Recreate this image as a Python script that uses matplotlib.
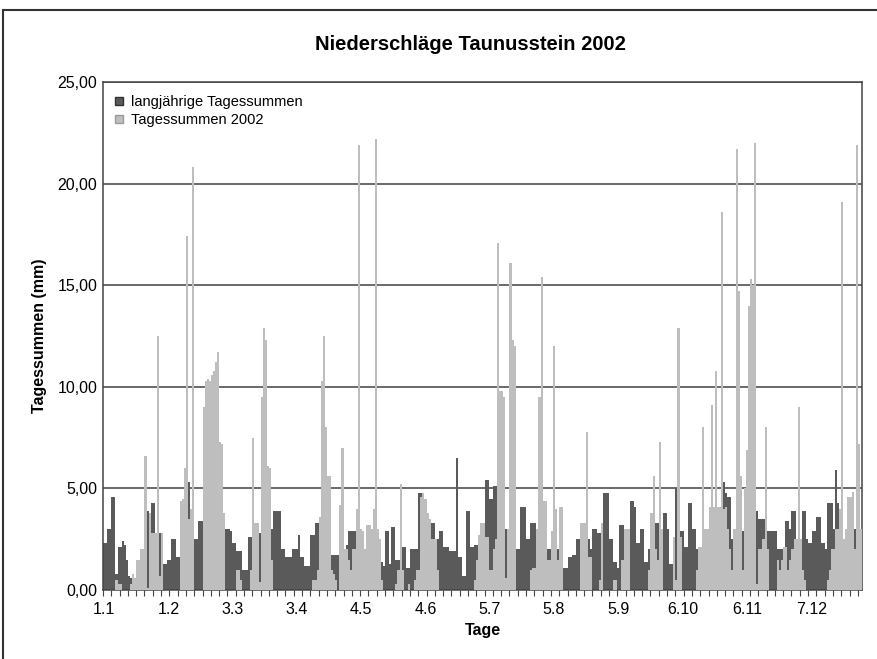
import matplotlib.pyplot as plt
from matplotlib.lines import Line2D
import numpy as np
from datetime import date, timedelta

plt.rcParams['font.family'] = ['Liberation Sans', 'DejaVu Sans']

# Tagessummen 2002 (mm), 366 Kategorien (inkl. 29.2.)
tages_2002 = [
    0, 0, 0, 0, 0, 0, 0.5, 0.3, 0.3, 0,
    0, 0, 0, 0.3, 0.8, 0.6, 1.5, 1.5, 2.0, 2.0,
    6.6, 0.1, 3.8, 2.8, 2.8, 2.8, 12.5, 0.7, 2.8, 0,
    0, 0, 0, 0, 0, 0, 0, 4.4, 4.5, 6.0,
    17.4, 3.5, 4.0, 20.8, 0, 0, 0, 0, 9.0, 10.3,
    10.4, 10.3, 10.6, 10.8, 11.2, 11.7, 7.3, 7.2, 3.8, 0,
    0, 0, 0, 0, 1.0, 1.0, 0.5, 0, 0, 0,
    0, 1.0, 7.5, 3.3, 3.3, 0.4, 9.5, 12.9, 12.3, 6.1,
    6.0, 1.5, 0, 0, 0, 0, 0, 0, 0, 0,
    0, 0, 0, 0, 0, 0, 0, 0, 0, 0,
    0, 0.5, 0.5, 1.0, 3.6, 10.3, 12.5, 8.0, 5.6, 5.6,
    1.0, 0.8, 0.5, 0, 4.2, 7.0, 2.0, 2.0, 1.5, 1.0,
    2.0, 2.0, 4.0, 21.9, 3.0, 2.9, 2.0, 3.2, 3.2, 3.0,
    4.0, 22.2, 3.0, 2.5, 0.5, 0, 0, 0, 0, 0,
    0, 0.3, 1.0, 5.2, 1.0, 0, 0, 0.3, 0, 0,
    0.5, 1.0, 1.0, 4.6, 4.75, 4.5, 3.8, 3.5, 2.5, 2.5,
    2.5, 1.0, 0, 0, 0, 0, 0, 0, 0, 0,
    0, 0, 0, 0, 0, 0, 0, 0, 0, 0.5,
    1.5, 2.7, 3.3, 3.3, 2.6, 2.6, 1.0, 1.0, 2.0, 2.5,
    17.1, 9.8, 9.8, 9.5, 0.6, 3.0, 16.1, 12.3, 12.0, 0,
    0, 0, 0, 0, 0, 0, 1.0, 1.1, 1.1, 3.0,
    9.5, 15.4, 4.4, 4.4, 1.5, 1.5, 2.9, 12.0, 4.0, 1.5,
    4.1, 4.1, 0, 0, 0, 0, 0, 0, 0, 0,
    3.3, 3.3, 3.3, 7.8, 1.6, 1.6, 0, 0, 0, 0.5,
    3.3, 0, 0, 0, 0, 0, 0.5, 0.5, 0, 0,
    1.5, 3.0, 3.0, 3.0, 0, 0, 0, 0, 0, 0,
    0, 0, 0, 1.0, 3.8, 5.6, 2.0, 1.5, 7.3, 3.0,
    0, 0, 0, 0, 0, 2.6, 0.5, 12.9, 2.6, 0,
    0, 0, 0, 0, 0, 0, 1.0, 2.1, 2.1, 8.0,
    3.0, 3.0, 4.1, 9.1, 4.1, 10.8, 4.1, 4.1, 18.6, 4.0,
    4.1, 3.0, 2.0, 1.0, 3.0, 21.7, 14.7, 5.6, 1.0, 5.0,
    6.9, 14.0, 15.3, 15.0, 22.0, 0.3, 2.0, 2.0, 2.5, 8.0,
    2.0, 0, 0, 0, 0, 1.5, 1.0, 1.5, 2.1, 2.1,
    1.0, 1.5, 2.0, 2.5, 2.5, 9.0, 2.5, 1.0, 0.5, 0,
    0, 0, 0, 0, 0, 0, 0, 0, 0, 0.5,
    1.0, 2.0, 2.0, 3.0, 3.0, 4.0, 19.1, 2.5, 3.0, 4.6,
    4.6, 4.8, 2.0, 21.9, 7.2, 3.0,
]

# langjaehrige Tagessummen (mm)
tages_lang = [
    2.3, 2.3, 3.0, 3.0, 4.6, 4.6, 0.8, 2.1, 2.1, 2.4,
    2.2, 1.5, 0.7, 0.6, 0.6, 0.6, 1.0, 1.0, 1.2, 1.5,
    2.0, 3.9, 3.8, 4.3, 4.3, 2.5, 2.5, 2.8, 2.0, 1.3,
    1.3, 1.5, 1.5, 2.5, 2.5, 1.6, 1.6, 2.0, 2.0, 2.5,
    3.0, 5.3, 3.0, 3.0, 2.5, 2.5, 3.4, 3.4, 2.5, 2.5,
    2.5, 2.5, 2.5, 2.5, 2.5, 2.5, 2.5, 2.5, 2.9, 3.0,
    3.0, 2.9, 2.3, 2.3, 1.9, 1.9, 1.9, 1.0, 1.0, 1.0,
    2.6, 2.6, 2.0, 2.0, 2.2, 2.8, 2.0, 2.0, 2.5, 2.5,
    3.0, 3.0, 3.9, 3.9, 3.9, 3.9, 2.0, 2.0, 1.6, 1.6,
    1.6, 2.0, 2.0, 2.0, 2.7, 1.6, 1.6, 1.2, 1.2, 1.2,
    2.7, 2.7, 3.3, 3.3, 2.2, 3.0, 3.0, 2.5, 2.5, 2.0,
    1.7, 1.7, 1.7, 1.7, 2.0, 2.0, 2.0, 2.2, 2.9, 2.9,
    2.9, 2.9, 2.5, 2.5, 2.5, 2.5, 2.0, 2.0, 2.0, 2.0,
    2.0, 2.0, 2.0, 2.0, 1.4, 1.2, 2.9, 2.9, 1.3, 3.1,
    3.1, 1.5, 1.5, 1.5, 2.1, 2.1, 1.1, 1.1, 2.0, 2.0,
    2.0, 2.0, 4.75, 4.75, 2.5, 2.5, 2.5, 3.0, 3.3, 3.3,
    2.5, 2.5, 2.9, 2.9, 2.1, 2.1, 2.1, 1.9, 1.9, 1.9,
    6.5, 1.6, 1.6, 0.7, 0.7, 3.9, 3.9, 2.1, 2.1, 2.2,
    2.2, 2.5, 2.5, 2.8, 5.4, 5.4, 4.5, 4.5, 5.1, 5.1,
    3.0, 3.0, 3.0, 3.0, 3.0, 2.5, 2.5, 2.5, 2.5, 2.0,
    2.0, 4.1, 4.1, 4.1, 2.5, 2.5, 3.3, 3.3, 3.3, 2.5,
    2.5, 2.5, 2.5, 2.5, 2.0, 2.0, 2.0, 2.0, 2.0, 2.0,
    2.0, 1.1, 1.1, 1.1, 1.6, 1.6, 1.7, 1.7, 2.5, 2.5,
    3.3, 2.5, 2.5, 2.5, 2.5, 2.0, 3.0, 3.0, 2.8, 2.8,
    2.9, 4.75, 4.75, 4.75, 2.5, 2.5, 1.4, 1.4, 1.1, 3.2,
    3.2, 2.0, 2.0, 2.0, 4.4, 4.4, 4.1, 2.3, 2.3, 3.0,
    3.0, 1.4, 1.4, 2.0, 2.0, 2.0, 3.3, 3.3, 2.0, 2.0,
    3.8, 3.8, 3.0, 1.3, 1.3, 1.3, 5.0, 2.5, 2.9, 2.9,
    2.1, 2.1, 4.3, 4.3, 3.0, 3.0, 2.0, 2.0, 2.0, 2.0,
    2.0, 2.0, 2.0, 2.0, 2.0, 2.5, 2.5, 3.0, 3.0, 5.3,
    4.75, 4.6, 4.6, 2.5, 2.5, 2.5, 2.5, 2.5, 2.9, 2.9,
    2.5, 2.5, 2.5, 2.5, 2.5, 3.9, 3.5, 3.5, 3.5, 2.9,
    2.9, 2.9, 2.9, 2.9, 2.9, 2.0, 2.0, 2.0, 2.0, 3.4,
    3.4, 3.0, 3.9, 3.9, 2.5, 2.5, 2.5, 3.9, 3.9, 2.5,
    2.3, 2.3, 2.9, 2.9, 3.6, 3.6, 2.3, 2.3, 2.0, 4.3,
    4.3, 4.3, 3.0, 5.9, 4.3, 3.0, 3.0, 2.5, 2.5, 2.5,
    2.5, 3.4, 3.0, 3.0, 3.0, 3.0,
]

# Kategorien: Tage als "T.M" (Schaltjahr-Raster wie im Original)
tage = [date(2000, 1, 1) + timedelta(days=i) for i in range(366)]
tage_labels = [f"{d.day}.{d.month}" for d in tage]

dark = '#5a5a5a'
light = '#bebebe'

fig = plt.figure(figsize=(8.77, 6.59), dpi=100)
ax = fig.add_axes([103 / 877, 1 - 590 / 659, 759 / 877, 508 / 659])

x = np.arange(len(tage_labels))
ax.bar(x, tages_lang, width=1.0, color=dark, linewidth=0, antialiased=False,
       zorder=2, label='langjährige Tagessummen')
ax.bar(x, tages_2002, width=1.0, color=light, linewidth=0, antialiased=False,
       zorder=3, label='Tagessummen 2002')

ax.set_xlim(-0.5, len(tage_labels) - 0.5)
ax.set_ylim(0, 25)

# y-Achse
yt = [0, 5, 10, 15, 20, 25]
ax.set_yticks(yt)
ax.set_yticklabels([f"{v:.2f}".replace('.', ',') for v in yt], fontsize=11.5)
ax.tick_params(axis='y', length=0, pad=4)
ax.yaxis.grid(True, color='#505050', linewidth=1.2, zorder=1)
ax.set_axisbelow(True)

# x-Achse: Beschriftung alle 31 Tage, Striche alle 4 Tage
lab_idx = list(range(0, len(tage_labels), 31))
ax.set_xticks(lab_idx)
ax.set_xticklabels([tage_labels[i] for i in lab_idx], fontsize=11.5)
ax.set_xticks(np.arange(-0.5, len(tage_labels), 4), minor=True)
ax.tick_params(axis='x', which='major', length=0, pad=9)
ax.tick_params(axis='x', which='minor', length=4, width=0.8, color='#444444')

for s in ax.spines.values():
    s.set_color('#444444')
    s.set_linewidth(1.1)

ax.set_ylabel('Tagessummen (mm)', fontsize=11.5, fontweight='bold')
ax.yaxis.set_label_coords(-0.074, 0.5)
ax.set_xlabel('Tage', fontsize=11.5, fontweight='bold')
ax.xaxis.set_label_coords(0.5, -0.065)

fig.text(470 / 877, 1 - 45 / 659, 'Niederschläge Taunusstein 2002',
         ha='center', va='center', fontsize=14.5, fontweight='bold')

handles = [
    Line2D([], [], linestyle='none', marker='s', markersize=6,
           markerfacecolor=dark, markeredgecolor='#333333', markeredgewidth=1),
    Line2D([], [], linestyle='none', marker='s', markersize=6,
           markerfacecolor=light, markeredgecolor='#999999', markeredgewidth=1),
]
ax.legend(handles, ['langjährige Tagessummen', 'Tagessummen 2002'],
          loc='upper left', bbox_to_anchor=(0.0, 0.995), frameon=False,
          fontsize=10.5, handlelength=0.8, handletextpad=0.4,
          labelspacing=0.3, borderaxespad=0.3)

# Rahmen des eingescannten Diagramms
fig.add_artist(Line2D([0.003, 0.003], [0, 0.985], transform=fig.transFigure,
                      color='#333333', linewidth=1.5))
fig.add_artist(Line2D([0.003, 1], [0.985, 0.985], transform=fig.transFigure,
                      color='#333333', linewidth=1.5))

fig.savefig('out.png', dpi=100)
